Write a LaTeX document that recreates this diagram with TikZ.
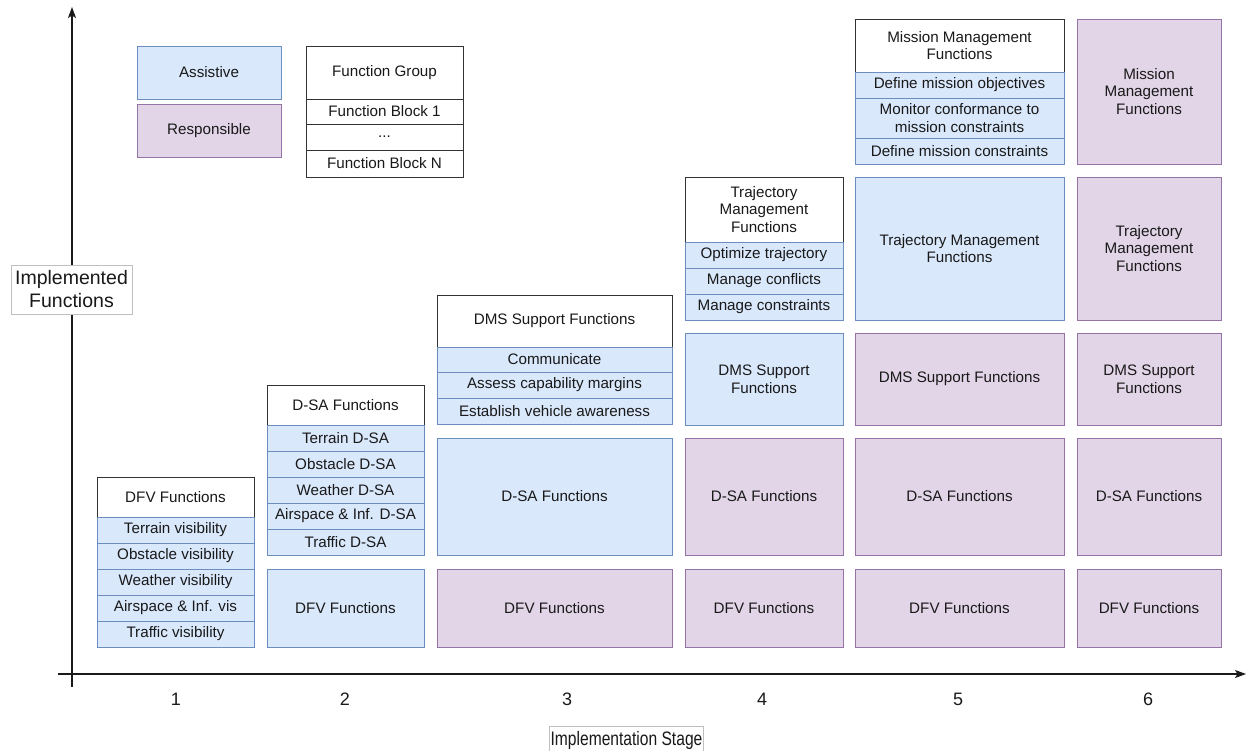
\documentclass[tikz,border=0pt]{standalone}
\usepackage{fontspec}
\setmainfont{Liberation Sans}
\usetikzlibrary{arrows.meta}
\definecolor{bfill}{HTML}{DAE8FC}
\definecolor{bline}{HTML}{6C8EBF}
\definecolor{pfill}{HTML}{E1D5E7}
\definecolor{pline}{HTML}{9673A6}
\definecolor{hline}{HTML}{333333}
\definecolor{axis}{HTML}{1A1A1A}
\tikzset{
  base/.style={rectangle, inner sep=0pt, outer sep=0pt, line width=1pt, align=center,
    font=\fontsize{15.2}{17.8}\selectfont, text=black!90},
  asst/.style={base, draw=bline, fill=bfill},
  resp/.style={base, draw=pline, fill=pfill},
  head/.style={base, draw=hline, fill=white},
  axlab/.style={rectangle, draw=black!25, fill=white, line width=0.6pt, inner sep=1pt, align=center, text=black!90},
  stagenum/.style={font=\fontsize{18}{20}\selectfont, text=black!90},
  axline/.style={draw=axis, line width=1.3pt, -{Stealth[length=11pt,width=8pt,inset=2.5pt]}}
}
% \bx{style}{name}{x1}{y1}{x2}{y2}{text}
\newcommand\bx[7]{\node[#1, minimum width={#5-#3}, minimum height={#6-#4}] (#2) at ({(#3+#5)/2},{(#4+#6)/2}) {#7};}
\begin{document}
\begin{tikzpicture}[x=1pt,y=-1pt]
\useasboundingbox (0,0) rectangle (1248,750);
% axes
\coordinate (yA) at (72,687);
\coordinate (yB) at (72,7);
\coordinate (xA) at (58,674);
\coordinate (xB) at (1246,674);
\draw[axline] (yA) -- (yB);
\draw[axline] (xA) -- (xB);
\node[axlab, font=\fontsize{19.5}{23}\selectfont, minimum width=121, minimum height=49] (ylab) at (71.5,289.5) {Implemented\\Functions};
\node[axlab, minimum width=151, minimum height=28] (xlab) at (626.5,740) {\scalebox{0.8}[1]{\fontsize{19.5}{22}\selectfont Implementation Stage}};
% stage numbers
\node[stagenum] (n1) at (176,699) {1};
\node[stagenum] (n2) at (345,699) {2};
\node[stagenum] (n3) at (567,699) {3};
\node[stagenum] (n4) at (762,699) {4};
\node[stagenum] (n5) at (958,699) {5};
\node[stagenum] (n6) at (1148,699) {6};
% legend
\bx{asst}{legA}{137}{46}{281}{99}{Assistive}
\bx{resp}{legR}{137}{104}{281}{157}{Responsible}
\bx{head}{legG}{306}{46}{463}{99}{Function Group}
\bx{head}{legB1}{306}{99}{463}{124}{Function Block 1}
\bx{head}{legBd}{306}{124}{463}{150}{...}
\bx{head}{legBN}{306}{150}{463}{177}{Function Block N}
% column 1
\bx{head}{c1h}{97}{477}{254}{517}{DFV Functions}
\bx{asst}{c1a}{97}{517}{254}{543}{Terrain visibility}
\bx{asst}{c1b}{97}{543}{254}{569}{Obstacle visibility}
\bx{asst}{c1c}{97}{569}{254}{595}{Weather visibility}
\bx{asst}{c1d}{97}{595}{254}{621}{Airspace \& Inf. vis}
\bx{asst}{c1e}{97}{621}{254}{647}{Traffic visibility}
% column 2
\bx{head}{c2h}{267}{385}{424}{425}{D-SA Functions}
\bx{asst}{c2a}{267}{425}{424}{451}{Terrain D-SA}
\bx{asst}{c2b}{267}{451}{424}{477}{Obstacle D-SA}
\bx{asst}{c2c}{267}{477}{424}{503}{Weather D-SA}
\bx{asst}{c2d}{267}{503}{424}{529}{Airspace \& Inf. D-SA}
\bx{asst}{c2e}{267}{529}{424}{555}{Traffic D-SA}
\bx{asst}{c2dfv}{267}{569}{424}{647}{DFV Functions}
% column 3
\bx{head}{c3h}{437}{295}{672}{347}{DMS Support Functions}
\bx{asst}{c3a}{437}{347}{672}{372}{Communicate}
\bx{asst}{c3b}{437}{372}{672}{398}{Assess capability margins}
\bx{asst}{c3c}{437}{398}{672}{424}{Establish vehicle awareness}
\bx{asst}{c3dsa}{437}{438}{672}{555}{D-SA Functions}
\bx{resp}{c3dfv}{437}{569}{672}{647}{DFV Functions}
% column 4
\bx{head}{c4h}{685}{177}{843}{242}{Trajectory\\Management\\Functions}
\bx{asst}{c4a}{685}{242}{843}{268}{Optimize trajectory}
\bx{asst}{c4b}{685}{268}{843}{294}{Manage conflicts}
\bx{asst}{c4c}{685}{294}{843}{320}{Manage constraints}
\bx{asst}{c4dms}{685}{333}{843}{425}{DMS Support\\Functions}
\bx{resp}{c4dsa}{685}{438}{843}{555}{D-SA Functions}
\bx{resp}{c4dfv}{685}{569}{843}{647}{DFV Functions}
% column 5
\bx{head}{c5h}{855}{19}{1064}{72}{Mission Management\\Functions}
\bx{asst}{c5a}{855}{72}{1064}{98}{Define mission objectives}
\bx{asst}{c5b}{855}{98}{1064}{138}{Monitor conformance to\\mission constraints}
\bx{asst}{c5c}{855}{138}{1064}{164}{Define mission constraints}
\bx{asst}{c5traj}{855}{177}{1064}{320}{Trajectory Management\\Functions}
\bx{resp}{c5dms}{855}{333}{1064}{425}{DMS Support Functions}
\bx{resp}{c5dsa}{855}{438}{1064}{555}{D-SA Functions}
\bx{resp}{c5dfv}{855}{569}{1064}{647}{DFV Functions}
% column 6
\bx{resp}{c6mm}{1077}{19}{1221}{164}{Mission\\Management\\Functions}
\bx{resp}{c6traj}{1077}{177}{1221}{320}{Trajectory\\Management\\Functions}
\bx{resp}{c6dms}{1077}{333}{1221}{425}{DMS Support\\Functions}
\bx{resp}{c6dsa}{1077}{438}{1221}{555}{D-SA Functions}
\bx{resp}{c6dfv}{1077}{569}{1221}{647}{DFV Functions}
\end{tikzpicture}
\end{document}
